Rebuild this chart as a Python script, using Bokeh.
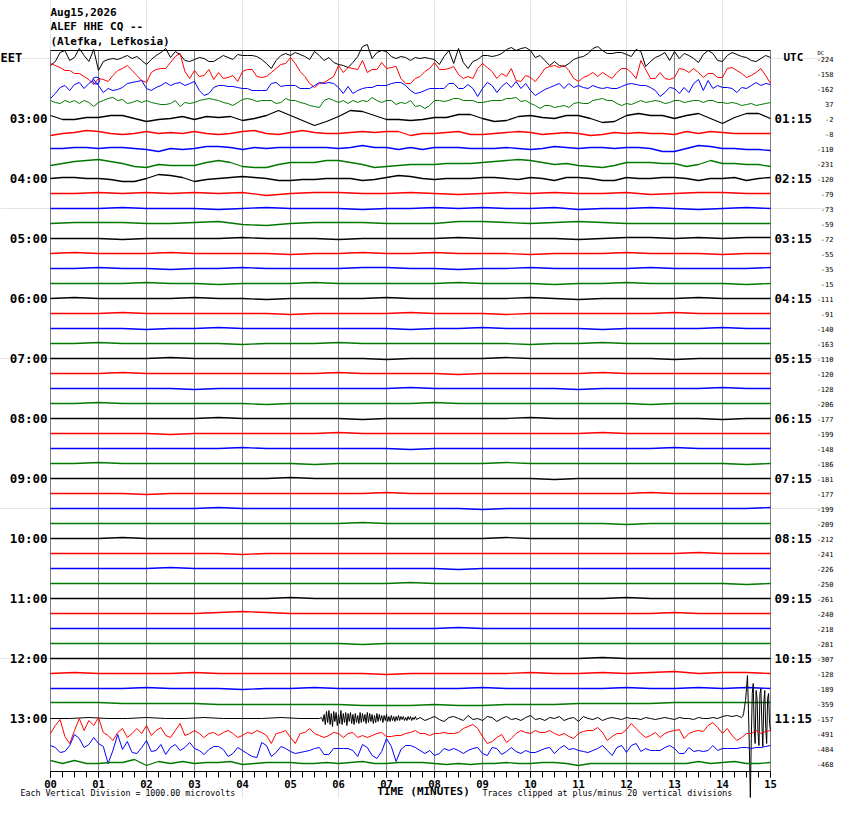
import numpy as np
from bokeh.plotting import figure
from bokeh.models import Range1d, LinearAxis, FixedTicker
from bokeh.embed import file_html
from bokeh.resources import INLINE
from bokeh.core.properties import value

# ---------------- data ----------------
# amplitudes: 1 unit = 1/15 of a vertical division (trace spacing), positive = up
TITLE = ["Aug15,2026", "ALEF HHE CQ --", "(Alefka, Lefkosia)"]
EET_LABELS = ["03:00", "04:00", "05:00", "06:00", "07:00", "08:00", "09:00", "10:00", "11:00", "12:00", "13:00"]
UTC_LABELS = ["01:15", "02:15", "03:15", "04:15", "05:15", "06:15", "07:15", "08:15", "09:15", "10:15", "11:15"]
HOUR_ROWS = [4, 8, 12, 16, 20, 24, 28, 32, 36, 40, 44]
MINUTE_LABELS = ["00", "01", "02", "03", "04", "05", "06", "07", "08", "09", "10", "11", "12", "13", "14", "15"]
DC_VALUES = [-224, -158, -162, 37, -2, -8, -110, -231, -120, -79, -73, -59, -72, -55, -35, -15,
             -111, -91, -140, -163, -110, -120, -128, -206, -177, -199, -148, -186, -181, -177, -199, -209,
             -212, -241, -226, -250, -261, -240, -218, -281, -307, -128, -189, -359, -157, -491, -484, -468]
EVENT_MIN = [0.95]
EVENT_ROW = [1.47]

T00 = [-7, -3, 6, 8, -2, 1, 10, 3, -3, 9, -12,
       -3, -1, 0, -1, 1, 3, 0, 2, -2, -6,
       -1, 3, 6, 10, 1, 7, 4, -2, -3, -1,
       1, 0, -3, -3, 0, 3, 1, -1, 4, 3,
       3, 3, 2, -1, -5, -10, -2, 3, 5, 3,
       6, 4, 2, -1, 7, 3, -2, 1, -4, -6,
       -7, -9, -4, 2, 12, 14, 0, 6, 8, 7,
       2, 0, 2, 1, -2, 1, 0, 1, 0, -1,
       -6, 2, 8, -5, 10, -4, -10, -3, -1, 3,
       3, 2, 3, 5, 9, 11, 8, 10, 11, 8,
       1, 3, -2, -7, -3, -7, -8, -5, -1, 1,
       2, 5, 10, 12, 8, 5, 5, 6, 6, 4,
       2, 9, 7, -8, -3, 1, 3, 6, -2, 7,
       0, 5, 3, 0, -4, 4, 8, 5, -2, -3,
       3, 6, 4, 2, 1, -2, -3, 0, 3, 1]
T01 = [10, 8, 6, 3, 3, 0, 0, -3, -6, -11, -5,
       -6, -8, -2, 3, 5, 8, 3, -2, -7, -9,
       1, 4, 5, 5, 11, 17, 20, 2, -5, 3,
       -3, -2, 4, -6, 1, -5, -4, -2, -8, 2,
       4, 4, -3, -4, -3, 1, 5, 9, 10, 16,
       10, 2, -3, -10, -14, -10, -9, -6, -3, 8,
       1, 6, 5, 4, 13, 1, 4, 4, 11, 5,
       6, 7, -5, -10, -10, -5, -3, 2, 5, 11,
       4, 4, 5, 7, -1, -5, -3, -5, 5, 10,
       6, 2, -5, 0, -3, 5, -7, -8, -2, -4,
       -8, -2, 5, 7, 8, 6, 8, 3, -5, -8,
       -4, -2, 1, -3, 1, -2, -5, 1, 5, 5,
       1, -5, 13, 4, -5, -5, 1, -5, -6, -4,
       5, 4, 1, 5, 1, -4, 0, 0, -4, -4,
       5, 6, 3, 0, -4, -2, 1, 5, -2, -10]
T02 = [-10, -5, 1, 3, -2, 4, 6, 0, 5, 9, 3,
       -4, 0, -2, -1, 1, 5, 6, 7, 8, 0,
       -2, 1, 3, 6, 3, 5, 6, 3, 5, 7,
       -2, -7, -5, 1, 3, 3, 2, 2, 1, 0,
       0, -2, -2, -2, -2, 5, 6, 2, 3, 3,
       3, 0, 0, 0, 3, 6, 5, 6, 5, 1,
       -5, 2, -5, -2, 0, 1, 1, 3, 3, 3,
       5, 6, 6, 3, -2, -5, -4, -2, 0, 0,
       0, 0, 5, 5, 0, 0, 4, 0, -8, 0,
       6, 3, -4, 2, 6, 1, 7, 0, 5, -2,
       -7, -4, -1, 1, 3, 5, 0, 5, 1, 3,
       1, 0, 3, 1, 0, 1, 0, 0, 2, 4,
       5, 4, 3, 3, 1, -2, -8, -4, 1, 0,
       -5, 1, -4, 5, 9, -2, 8, 0, 3, 1,
       1, 0, -4, 1, 0, 3, 6, 3, 5, 4]
T03 = [3, 1, 0, 3, 1, 3, 0, 3, 1, -3, 1,
       3, 5, 6, 3, 4, 0, 1, 3, 1, 3,
       1, 0, -1, -1, 0, 3, -3, 1, 0, 1,
       3, 4, 5, 4, 3, 1, 0, -2, 1, 4,
       5, 4, 2, 3, 3, 3, 0, 1, 5, 3,
       3, 1, 0, -2, -3, -4, 3, 5, 3, 1,
       3, 0, 3, 1, 3, 2, 6, 3, 1, 3,
       3, -1, 1, 0, 3, -3, -2, -5, -2, 3,
       3, 2, 3, 5, 5, 3, 3, 3, 1, 1,
       2, 3, 3, 3, 5, 5, 6, 2, 3, 0,
       -2, -5, -2, -2, -4, -3, -2, -4, 0, 1,
       0, 0, 3, 4, 5, 3, 3, 0, -2, 0,
       -1, 1, 3, 1, 2, 3, 2, 0, 1, 3,
       3, 1, 2, 3, 3, 1, 3, 3, 1, 1,
       0, 1, 0, -2, -1, 0, -2, -1, 0, 1]
T04 = [3, -1, -1, 1, 1, 3, 3, 0, -3, -1, 0, 2, -1, 2, 1, 2, -2, 0, 3, 8, 3, -2, -7, -3, 2, 8, 7, 3, -1, -1, -2,
       -1, 1, 1, 4, 4, 0, -3, -2, 2, 3, 1, 0, 3, 3, 0, -4, -3, 3, 5, 3, 3, 0, 3, 5, 0, -5, 1, 5, 5, 0]
T05 = [-2, 0, 1, 3, 2, 0, -1, 0, 2, 0, 1, 0, 2, 0, -1, 0, 2, 3, 0, -1, 1, 3, 1, 0, 0, 1, 2, 1, 2, 2, -2,
       0, 0, 1, 2, -1, -1, 0, 1, 2, 1, -1, 0, 1, 0, -2, -1, 1, 0, 1, 0, 0, -1, 2, 0, 2, 1, 0, 0, 0, 0]
T06 = [0, 0, 1, 1, 0, 1, 1, 0, -1, -3, 0, -1, 0, 2, 2, 1, -1, 1, 0, 1, 1, 1, 1, 1, 0, 1, 3, 1, 1, -1, 1,
       -1, 1, 1, 1, 0, 0, 0, 1, 0, -1, 0, 2, 1, 0, 1, 1, 0, 1, 1, 0, -3, -3, 0, 3, 2, 0, 0, -1, -1, -2]
T07 = [-2, 0, 2, 3, 4, 2, 0, -3, -4, -1, -2, -2, -2, 1, 3, 1, -3, -4, -4, -1, 1, 1, 1, 3, 3, 1, -1, -4, -3, -2, -1,
       -1, -1, 0, 0, 0, 1, 2, 3, 4, 3, 1, -1, 0, -2, -3, -4, -2, 1, 1, 1, 0, 0, -3, -1, 3, 0, 0, -1, -1, -3]
T08 = [0, 1, 1, 0, 0, -1, -3, -3, 0, 4, 3, 1, -3, -1, 0, 1, 2, 1, 0, -2, -2, -1, -1, 0, 0, 0, -2, -1, 1, 3, 2,
       0, -1, 0, 0, 0, 1, 1, 0, -1, 1, 0, -2, 1, 1, 0, -2, -2, 1, 0, 0, 1, 1, 0, -2, 0, 0, 1, -2, 0, 1]
T09 = [0, 0, 1, 0, 1, 0, 1, 0, 1, -2, 0, 1, 1, 0, 0, 1, 0, -1, 0, 1, 0, 1, 0, 0, 1, -1, 0, 1, 1, 0, 0]
T10 = [0, 0, 0, 1, 0, 0, 0, -1, 0, 1, 0, 0, 0, -1, 0, 0, 1, 0, 1, 0, 0, 1, -1, 0, 0, 1, 0, -1, 0, 1, 0]
T11 = [0, 1, 1, 1, 0, 0, 1, 2, -1, -2, 0, 1, 1, 1, 0, 0, 0, 2, 2, 1, 0, 1, 2, 1, 0, 0, 0, 0, 0, 0, 0]
T12 = [0, 0, 0, -1, 0, 0, 0, 0, 1, 0, 0, 0, -1, 0, 0, 0, 0, 1, 0, 0, 0, 0, -1, 0, 1, 1, 0, 1, 0, 1, 1]
T13 = [0, 1, 0, 0, 0, 1, 0, 0, 0, 0, -1, 0, 0, 1, 0, 0, 1, 0, 0, 0, -1, 0, 0, 0, 1, 0, 0, 0, -1, 0, 0]
T14 = [0, 0, 1, 0, 0, -1, 0, 0, 1, 0, 0, 0, 0, 1, 1, 0, 0, -1, 0, 0, 1, 0, 0, 0, 0, 1, 0, 0, 0, 0, 1]
T15 = [0, 0, 0, 0, 1, 0, 0, -1, 0, 0, 0, 1, 0, 0, 0, 0, 0, 1, 0, 0, 0, -1, 0, 0, 1, 0, 0, 0, 0, -1, 0]
T16 = [0, 1, 0, 0, 0, 0, 1, 0, 0, -1, 0, 0, 0, 0, 1, 0, 0, 0, 0, 0, 1, 0, -1, 0, 0, 0, 0, 1, 0, 0, 0]
T17 = [0, 0, 0, 1, 0, 0, 0, 0, 0, 0, -1, 0, 0, 0, 0, 1, 0, 0, 0, -1, 0, 0, 0, 0, 0, 0, 1, 0, 0, 0, 0]
T18 = [0, 0, 0, 0, -1, 0, 0, 1, 0, 0, 0, 0, 0, 0, 0, -1, 0, 0, 1, 0, 0, 0, 0, -1, 0, 0, 0, 0, 1, 0, 0]
T19 = [0, 0, 1, 0, 0, 0, 0, 0, -1, 0, 0, 0, 1, 0, 0, 0, 0, 0, 0, 0, -1, 0, 0, 1, 0, 0, 0, 0, 0, 0, 0]
T20 = [0, 0, 0, 0, 0, 1, 0, 0, 0, 0, 0, 0, 0, 0, -1, 0, 0, 0, 0, 1, 0, 0, 0, 0, 0, 0, -1, 0, 0, 0, 0]
T21 = [0, 0, 0, 1, 0, 0, 0, 0, 0, 0, 0, 0, 1, 0, 0, 0, 0, -1, 0, 0, 0, 0, 0, 1, 0, 0, 0, 0, 0, 0, 0]
T22 = [0, 0, 0, 0, 0, 0, -1, 0, 0, 0, 0, 0, 0, 0, 0, 1, 0, 0, 0, 0, 0, 0, -1, 0, 0, 0, 0, 0, 1, 0, 0]
T23 = [0, 0, 1, 0, 0, 0, 0, 0, 0, -1, 0, 0, 0, 0, 0, 0, 1, 0, 0, 0, 0, 0, 0, 0, 0, -1, 0, 0, 0, 0, 0]
T24 = [0, 0, 0, 0, 0, 0, 0, 1, 0, 0, 0, 0, 0, -1, 0, 0, 0, 0, 0, 0, 1, 0, 0, 0, 0, 0, 0, 0, -1, 0, 0]
T25 = [0, 0, 0, 0, 0, -1, 0, 0, 0, 0, 0, 0, 1, 0, 0, 0, 0, 0, 0, 0, 0, 0, 0, 1, 0, 0, 0, 0, 0, 0, 0]
T26 = [0, 0, 0, 0, 0, 0, 0, 0, 1, 0, 0, 0, 0, 0, 0, -1, 0, 0, 0, 0, 0, 0, 0, 0, 0, 0, 1, 0, 0, 0, 0]
T27 = [0, 0, 1, 0, 0, 0, 0, 0, 0, 0, 0, -1, 0, 0, 0, 0, 0, 0, 0, 1, 0, 0, 0, 0, 0, 0, 0, 0, 0, -1, 0]
T28 = [0, 0, 0, 0, 0, 0, 0, 0, 0, 0, 1, 0, 0, 0, 0, 0, 0, 0, 0, 0, 0, -1, 0, 0, 0, 0, 0, 0, 0, 0, 0]
T29 = [0, 0, 0, 0, -1, 0, 0, 0, 0, 0, 0, 0, 0, 0, 1, 0, 0, 0, 0, 0, 0, 0, 0, 0, 0, 1, 0, 0, 0, 0, 0]
T30 = [0, 0, 0, 0, 0, 0, 0, 1, 0, 0, 0, 0, 0, 0, 0, 0, 0, 0, -1, 0, 0, 0, 0, 0, 0, 0, 0, 0, 0, 0, 1]
T31 = [0, 0, 0, 0, 0, 0, 0, 0, 0, 0, 0, 0, 0, 1, 0, 0, 0, 0, 0, 0, 0, 0, 0, 0, -1, 0, 0, 0, 0, 0, 0]
T32 = [0, 0, 0, 1, 0, 0, 0, 0, 0, 0, 0, 0, 0, 0, 0, 0, 0, 0, 0, 1, 0, 0, 0, 0, 0, 0, 0, 0, 0, 0, 0]
T33 = [0, 0, 0, 0, 0, 0, 0, 0, -1, 0, 0, 0, 0, 0, 0, 0, 0, 0, 0, 0, 0, 0, 0, 0, 0, 0, 0, 1, 0, 0, 0]
T34 = [0, 0, 0, 0, 0, 1, 0, 0, 0, 0, 0, 0, 0, 0, 0, 0, 0, -1, 0, 0, 0, 0, 0, 0, 0, 0, 0, 0, 0, 0, 0]
T35 = [0, 0, 0, 0, 0, 0, 0, 0, 0, 0, 0, 0, 0, 0, 0, 1, 0, 0, 0, 0, 0, 0, 0, 0, 0, 0, 0, 0, 0, -1, 0]
T36 = [0, 0, 0, 0, 0, 0, 0, 0, 0, 0, 1, 0, 0, 0, 0, 0, 0, 0, 0, 0, 0, 0, 0, 0, 1, 0, 0, 0, 0, 0, 0]
T37 = [0, 0, 0, 0, 0, 0, 0, 1, 2, 1, 0, 0, 0, 0, 0, 0, 0, 0, 0, 0, 0, 0, 0, 0, 0, 0, 1, 0, 0, 0, 0]
T38 = [0, 0, 0, 0, 0, 0, 0, 0, 0, 0, 0, 0, 0, 0, 0, 0, 0, 1, 0, 0, 0, 0, 0, 0, 0, 0, 0, 0, 0, 0, 0]
T39 = [0, 0, 0, 0, 0, 0, 0, 0, 0, 0, 0, 0, 0, -1, 0, 0, 0, 0, 0, 0, 0, 0, 0, 0, 0, 0, 0, 0, 0, 0, 0]
T40 = [0, 0, 0, 0, 0, 0, 0, 0, 0, 0, 0, 0, 0, 0, 0, 0, 0, 0, 0, 0, 0, 0, 0, 1, 0, 0, 0, 0, 0, 0, 0]
T41 = [0, 1, 0, 0, 0, 0, 1, 0, 0, 0, 0, 0, 0, 0, -1, 0, 0, 0, 0, 0, 1, 0, 0, 1, 0, 1, 2, 0, 1, 1, 0]
T42 = [0, 0, 0, 0, 1, 0, 0, 0, -1, 0, 0, 1, 0, 0, 0, 0, 0, 0, 1, 0, 0, 0, 0, 0, 1, 0, 0, 1, 0, 1, 0]
T43 = [1, 1, 1, 0, 0, 0, 0, -1, -1, -1, -1, -1, -1, -2, -2, -2, -1, -2, -2, -1, -1, -1, 0, 0, 0, 0, 1, 1, 1, 1, 1]

# trace 44 (13:00) in four segments: (start minute, step minute, values)
T44_QUIET = [0, 0, 1, 0, 0, 1, 0, 0, 1, 0, 0, 0, 1, 0, 0]
T44_BURST = [1, -3, 4, -6, 7, -4, 8, -6, 5, -8, 7, -3, 6, -7, 4, -5, 8, -6, 5, -4,
             6, -7, 5, -3, 6, -5, 4, -6, 5, -4, 3, -5, 6, -4, 5, -3, 4, -5, 6, -4,
             5, -3, 4, -5, 3, -4, 5, -3, 4, -2, 3, -4, 3, -2, 4, -3, 2, -3, 3, -2,
             2, -3, 2, -2, 3, -2, 2, -1, 2, -2, 1, -2, 2, -1, 2, -2, 1, -1, 2, -1]
T44_CODA = [1, -2, 0, 2, -1, -3, 1, 2, 0, -2, 3, -1, 0, -2, 2, 1, -3, 0, 2, -1,
            0, -2, 1, 3, -1, 0, -2, 1, 0, 2, -2, 0, 1, -3, 2, 0, -1, 1, -2, 0,
            1, 0, -1, 1, 0, 0, -1, 1, 0, -1, 0, 1, 0, -1, 1, 0, 0, -1, 1, 0,
            0, 1, 0, 2, 3, 2, 3, 1]
T44_SPIKES = [2, 5, 12, 18, 30, 43, 10, -30, -79, -20, 25, 35, -10, -25, 28, 20, -15, -27, 25, 30,
              -5, -28, 15, 28, -10, -25, 20, 25, -5, -12]
T44_SEGMENTS = [(0.0, 0.4, T44_QUIET), (5.65, 0.025, T44_BURST), (7.7, 0.1, T44_CODA), (14.42, 0.02, T44_SPIKES)]

T45 = [0, 8, 14, -3, -10, 3, 15, 3, 13, 8, 16,
       1, -2, -7, 1, 5, -4, 0, 5, 0, 8,
       -2, 3, 6, -2, -4, 3, 10, -2, 0, 3,
       0, -4, 0, 1, -2, 1, 3, 0, -4, -2,
       1, 0, 3, 1, -2, -10, 0, 1, 3, -4,
       -10, 0, 1, 5, 0, -2, -4, -2, 1, 0,
       -4, 0, 1, -4, -2, -4, -2, 0, 1, -3,
       -3, -2, -2, 0, 1, 3, 0, 0, -2, 0,
       0, 1, 0, 0, 1, 5, 7, 9, 5, -3,
       -10, -8, -4, -1, -9, -5, 0, 3, 1, 0,
       3, 1, 1, 3, 0, -2, 0, -3, -5, 0,
       2, 3, 3, 6, 1, -7, -3, 0, 0, 4,
       10, 5, 0, -4, -2, 1, -4, 0, 2, 3,
       4, -5, 0, 2, 3, 2, 8, 11, 6, 0,
       5, -2, -7, -4, 0, 0, 3, 0, 2, 3]
T46 = [3, 1, -4, -3, 3, 14, 10, 1, 4, 11, 5,
       2, -15, -2, 14, -1, 7, -4, -5, 1, 8,
       -3, -2, 4, -6, 1, 4, -2, 1, 6, 0,
       -2, -6, -1, 2, 2, -1, -8, -5, 1, -2,
       -5, -8, -9, 6, 3, -8, -4, 2, 0, -3,
       -5, -4, -3, -2, 0, 1, -6, -6, 0, 0,
       0, 0, -2, -8, 4, 1, -7, -10, -3, 10,
       2, -13, -1, 3, 3, 1, -2, -5, -2, -7,
       -5, 0, -2, 0, -2, -5, -2, 0, 1, -5,
       -7, 1, 0, -6, -3, 1, -3, -5, -2, -4,
       -4, -2, 0, 1, -5, 0, 3, -1, 0, -2,
       -3, -4, -2, 0, 3, -2, -7, 1, 3, -4,
       3, 5, -3, 0, -2, -2, -2, 1, 3, 0,
       -5, -5, 1, -3, -2, -3, -2, 3, -2, 0,
       0, 0, 0, 1, 1, 0, 1, 1, 2, 3]
T47 = [3, 0, 3, 0, 0, 1, 1, 4, -2, 2, 0, 2, 0, 1, 1, 2, -1, 0, 1, 1, 1, 0, 0, 1, 0, 1, 2, 0, 0, 1, 1,
       1, 0, -1, 0, -1, 0, 0, 1, 0, 0, 1, 1, 0, -2, 0, 0, 0, 0, 0, 0, 0, 0, 0, 2, 0, 1, 2, 0, 0, 1]

TRACES = [T00, T01, T02, T03, T04, T05, T06, T07, T08, T09, T10, T11, T12, T13, T14, T15,
          T16, T17, T18, T19, T20, T21, T22, T23, T24, T25, T26, T27, T28, T29, T30, T31,
          T32, T33, T34, T35, T36, T37, T38, T39, T40, T41, T42, T43, None, T45, T46, T47]

# ---------------- layout ----------------
W, H = 834, 798
PX_MIN = 48.0        # pixels per minute
PX_ROW = 15.0        # pixels per trace row (one vertical division)
X0, Y0 = 50.0, 58.0  # canvas pixel of minute 0 and of trace row 0


def X(px):
    return (px - X0) / PX_MIN


def Y(py):
    return (py - Y0) / PX_ROW


COLORS = ["#000000", "#ff0000", "#0000ff", "#007800"]
GRID = "#808080"
MONO = value("DejaVu Sans Mono")

p = figure(width=W, height=H,
           x_range=Range1d(X(0), X(W)),
           y_range=Range1d(Y(H), Y(0)),
           output_backend="svg", toolbar_location=None,
           x_axis_location=None, y_axis_location=None,
           min_border=0, outline_line_color=None,
           background_fill_color="white", border_fill_color="white")

minutes = list(range(16))
p.segment(x0=minutes, y0=[Y(50)] * 16, x1=minutes, y1=[Y(771)] * 16, line_color=GRID, line_width=1)
p.segment(x0=[0], y0=[Y(50)], x1=[15], y1=[Y(50)], line_color="black", line_width=1)

for i, vals in enumerate(TRACES):
    if vals is None:
        ts, vs = [], []
        for start, step, seg in T44_SEGMENTS:
            ts.extend(start + step * np.arange(len(seg)))
            vs.extend(seg)
        t = np.array(ts)
        v = np.array(vs, dtype=float)
    else:
        v = np.array(vals, dtype=float)
        t = np.linspace(0, 15, len(v))
    lw = 1.0 if len(v) > 100 else 1.3
    p.line(t, i - v / PX_ROW, line_color=COLORS[i % 4], line_width=lw)

p.scatter(x=EVENT_MIN, y=EVENT_ROW, marker="circle", size=7, fill_color=None, line_color="#0000ff", line_width=1)

# x axis (minutes) drawn at the bottom of the trace area
xax = LinearAxis(fixed_location=Y(771), bounds=(0, 15),
                 ticker=FixedTicker(ticks=minutes, minor_ticks=[q / 4 for q in range(61)]),
                 major_label_overrides={m: MINUTE_LABELS[m] for m in minutes})
xax.axis_line_color = "black"
xax.major_tick_in = 0
xax.major_tick_out = 6
xax.minor_tick_in = 0
xax.minor_tick_out = 6
xax.major_tick_line_color = "black"
xax.minor_tick_line_color = "black"
xax.major_label_standoff = 2
xax.major_label_text_font = "DejaVu Sans Mono"
xax.major_label_text_font_style = "bold"
xax.major_label_text_font_size = "10.5px"
xax.major_label_text_color = "black"
p.add_layout(xax, "below")

# left (EET) and right (UTC) hour labels
for side, loc, labels, standoff in (("left", 0, EET_LABELS, 3), ("right", 15, UTC_LABELS, 4)):
    ax = LinearAxis(fixed_location=loc, ticker=FixedTicker(ticks=HOUR_ROWS, minor_ticks=[]),
                    major_label_overrides={r: lab for r, lab in zip(HOUR_ROWS, labels)})
    ax.axis_line_color = None
    ax.major_tick_line_color = None
    ax.major_tick_in = 0
    ax.major_tick_out = 0
    ax.major_label_standoff = standoff
    ax.major_label_text_font = "DejaVu Sans Mono"
    ax.major_label_text_font_style = "bold"
    ax.major_label_text_font_size = "12.5px"
    ax.major_label_text_color = "black"
    p.add_layout(ax, side)

# header texts
p.text(x=[X(50)] * 3, y=[Y(11.5), Y(26), Y(41)], text=TITLE, text_font=MONO, text_font_style="bold",
       text_font_size="11px", text_align="left", text_baseline="middle", text_color="black")
p.text(x=[X(0)], y=[Y(57)], text=["EET"], text_font=MONO, text_font_style="bold",
       text_font_size="12px", text_align="left", text_baseline="middle", text_color="black")
p.text(x=[X(783)], y=[Y(57)], text=["UTC"], text_font=MONO, text_font_style="bold",
       text_font_size="11px", text_align="left", text_baseline="middle", text_color="black")

# DC offsets per trace (right column)
p.text(x=[X(833)] * len(DC_VALUES), y=list(range(len(DC_VALUES))), text=[str(d) for d in DC_VALUES],
       text_font=MONO, text_font_size="7px", text_align="right", text_baseline="middle", text_color="black")
p.text(x=[X(817)], y=[Y(52)], text=["DC"], text_font=MONO, text_font_size="5.5px",
       text_align="left", text_baseline="middle", text_color="black")

# footer texts
p.text(x=[X(423)], y=[Y(791)], text=["TIME (MINUTES)"], text_font=MONO, text_font_style="bold",
       text_font_size="11px", text_align="center", text_baseline="middle", text_color="black")
p.text(x=[X(20)], y=[Y(792)], text=["Each Vertical Division = 1000.00 microvolts"], text_font=MONO,
       text_font_size="8.3px", text_align="left", text_baseline="middle", text_color="black")
p.text(x=[X(482)], y=[Y(792)], text=["Traces clipped at plus/minus 20 vertical divisions"], text_font=MONO,
       text_font_size="8.3px", text_align="left", text_baseline="middle", text_color="black")

open("out.html", "w").write(file_html(p, INLINE))
